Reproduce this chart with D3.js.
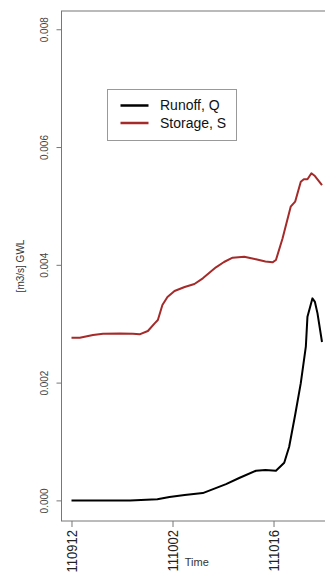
<!DOCTYPE html>
<html>
<head>
<meta charset="utf-8">
<script src="https://cdn.jsdelivr.net/npm/d3@7"></script>
<style>
  html, body { margin: 0; padding: 0; background: #fff; }
  svg { display: block; font-family: "Liberation Sans", Arial, sans-serif; }
</style>
</head>
<body>
<svg id="chart" width="325" height="573"></svg>
<script>
// Observation index along the time axis (irregular dates, so plotted by index)
const runoffIndex = [0, 28, 58, 85, 97, 112, 130, 141.5, 153, 166, 182.6, 192, 202.4, 210.6, 215.5, 221.4, 227, 232, 233.6, 238.5, 241, 243.5, 248];
const runoffQ = [0.00000, 0.00000, 0.00000, 0.00002, 0.000056, 0.00009, 0.000124, 0.00020, 0.000277, 0.00038, 0.000503, 0.000515, 0.000503, 0.000639, 0.00091, 0.00145, 0.00199, 0.00261, 0.00312, 0.00343, 0.00337, 0.00318, 0.00269];

const storageIndex = [0, 8.2, 21.3, 31.2, 47.7, 60.8, 67.4, 75.6, 82.3, 85.5, 90, 95, 102, 112, 121.7, 130, 143, 151, 159.5, 171, 182.6, 192, 199, 202.4, 209, 217, 221.4, 227, 230, 233.6, 237.5, 241, 248];
const storageS = [0.00276, 0.00276, 0.002808, 0.00283, 0.002833, 0.00283, 0.00282, 0.002876, 0.003006, 0.003062, 0.003317, 0.003453, 0.003555, 0.003623, 0.003674, 0.003771, 0.003958, 0.004048, 0.004121, 0.004138, 0.004093, 0.004056, 0.004042, 0.004082, 0.00445, 0.004987, 0.005072, 0.005411, 0.005452, 0.005452, 0.005554, 0.005508, 0.005355];

const xTickIndex = [0, 100, 200];
const xTickLabels = ["110912", "111002", "111016"];
const yTicks = [0, 0.002, 0.004, 0.006, 0.008];

const seriesNames = ["Runoff, Q", "Storage, S"];
const seriesColors = ["#000000", "#a52a2a"];

(function draw() {
  const svg = d3.select("#chart");

  // Plot frame (extends slightly past the right edge of the window)
  const plotLeft = 61.5, plotRight = 332, plotTop = 11, plotBottom = 521;

  const x = d3.scaleLinear()
    .domain([-9.9, 257.9])
    .range([plotLeft, plotRight]);

  const y = d3.scaleLinear()
    .domain([-0.00035, 0.00831])
    .range([plotBottom, plotTop]);

  // frame
  svg.append("rect")
    .attr("x", plotLeft).attr("y", plotTop)
    .attr("width", plotRight - plotLeft).attr("height", plotBottom - plotTop)
    .attr("fill", "none")
    .attr("stroke", "#777")
    .attr("stroke-width", 1);

  // y axis
  const yAxis = svg.append("g")
    .attr("transform", `translate(${plotLeft},0)`)
    .call(d3.axisLeft(y).tickValues(yTicks).tickSize(5).tickFormat(d3.format(".3f")));
  yAxis.select(".domain").remove();
  yAxis.selectAll(".tick line").attr("stroke", "#777");
  yAxis.selectAll(".tick text")
    .attr("x", null)
    .attr("text-anchor", "middle")
    .attr("transform", "translate(-17,0) rotate(-90)")
    .attr("dy", "0.35em")
    .attr("font-size", 10)
    .attr("fill", "#444");

  // x axis
  const xAxis = svg.append("g")
    .attr("transform", `translate(0,${plotBottom})`)
    .call(d3.axisBottom(x).tickValues(xTickIndex).tickSize(6)
      .tickFormat((d, i) => xTickLabels[i]));
  xAxis.select(".domain").remove();
  xAxis.selectAll(".tick line").attr("stroke", "#777");
  xAxis.selectAll(".tick text")
    .attr("y", null)
    .attr("text-anchor", "end")
    .attr("transform", "translate(0,9) rotate(-90) scale(1,1.15)")
    .attr("dy", "0.36em")
    .attr("font-size", 13)
    .attr("fill", "#222");

  // axis titles
  svg.append("text")
    .attr("transform", `translate(20,${(plotTop + plotBottom) / 2}) rotate(-90)`)
    .attr("text-anchor", "middle")
    .attr("dy", "0.35em")
    .attr("font-size", 10)
    .attr("fill", "#333")
    .text("[m3/s] GWL");

  svg.append("text")
    .attr("x", (plotLeft + plotRight) / 2)
    .attr("y", 566)
    .attr("text-anchor", "middle")
    .attr("font-size", 11)
    .attr("fill", "#333")
    .text("Time");

  // series lines
  const line = d3.line().x(d => x(d[0])).y(d => y(d[1]));

  svg.append("path")
    .datum(runoffIndex.map((t, i) => [t, runoffQ[i]]))
    .attr("d", line)
    .attr("fill", "none")
    .attr("stroke", seriesColors[0])
    .attr("stroke-width", 2)
    .attr("stroke-linejoin", "round");

  svg.append("path")
    .datum(storageIndex.map((t, i) => [t, storageS[i]]))
    .attr("d", line)
    .attr("fill", "none")
    .attr("stroke", seriesColors[1])
    .attr("stroke-width", 2)
    .attr("stroke-linejoin", "round");

  // legend
  const legend = svg.append("g").attr("transform", "translate(107.5,89.5)");
  legend.append("rect")
    .attr("width", 129).attr("height", 51)
    .attr("fill", "#fff")
    .attr("stroke", "#999");
  seriesNames.forEach((name, i) => {
    const ly = 16 + i * 17.5;
    legend.append("line")
      .attr("x1", 13).attr("x2", 41)
      .attr("y1", ly).attr("y2", ly)
      .attr("stroke", seriesColors[i])
      .attr("stroke-width", 2.5);
    legend.append("text")
      .attr("x", 52.5).attr("y", ly)
      .attr("dy", "0.35em")
      .attr("font-size", 14)
      .attr("fill", "#111")
      .text(name);
  });
})();
</script>
</body>
</html>
